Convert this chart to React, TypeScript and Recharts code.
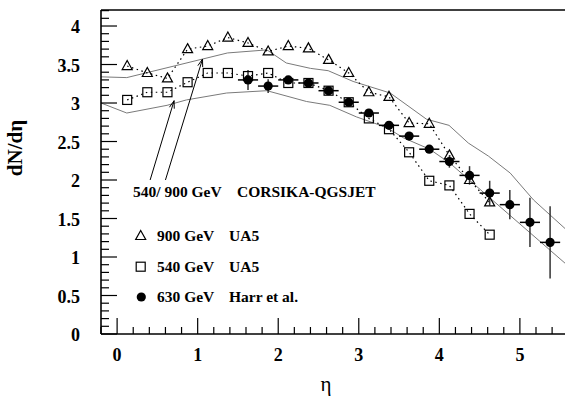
import React from 'react';
import { ComposedChart, Line, Scatter, XAxis, YAxis, ErrorBar, ReferenceLine } from 'recharts';

// ---------- data ----------
const ua5Eta = [0.125, 0.375, 0.625, 0.875, 1.125, 1.375, 1.625, 1.875, 2.125, 2.375, 2.625, 2.875, 3.125, 3.375, 3.625, 3.875, 4.125, 4.375, 4.625];
const ua5_900 = [3.48, 3.39, 3.32, 3.70, 3.74, 3.85, 3.78, 3.67, 3.74, 3.71, 3.56, 3.39, 3.14, 3.08, 2.74, 2.73, 2.32, 2.00, 1.71];
const ua5_540 = [3.04, 3.14, 3.14, 3.27, 3.39, 3.39, 3.35, 3.39, 3.26, 3.26, 3.16, 3.01, 2.80, 2.66, 2.36, 1.99, 1.93, 1.56, 1.29];

const harrEta = [1.625, 1.875, 2.125, 2.375, 2.625, 2.875, 3.125, 3.375, 3.625, 3.875, 4.125, 4.375, 4.625, 4.875, 5.125, 5.375];
const harrVal = [3.30, 3.22, 3.30, 3.26, 3.16, 3.01, 2.87, 2.71, 2.57, 2.40, 2.24, 2.06, 1.83, 1.68, 1.45, 1.19];
const harrErr = [0.13, 0.09, 0.05, 0.04, 0.04, 0.04, 0.04, 0.04, 0.04, 0.03, 0.08, 0.12, 0.16, 0.19, 0.32, 0.47];
const harrEtaErr = [0.125, 0.125, 0.125, 0.125, 0.125, 0.125, 0.125, 0.125, 0.125, 0.125, 0.125, 0.125, 0.125, 0.125, 0.125, 0.125];

const upperEta = [-0.2, 0.12, 1.37, 1.86, 2.10, 2.40, 2.62, 2.93, 3.39, 3.84, 4.12, 4.36, 4.61, 4.88, 5.17, 5.56];
const upperVal = [3.34, 3.33, 3.65, 3.69, 3.52, 3.45, 3.42, 3.28, 3.13, 2.79, 2.71, 2.48, 2.31, 2.09, 1.74, 1.37];
const lowerEta = [-0.2, 0.12, 0.62, 0.86, 1.36, 1.86, 2.35, 2.64, 2.97, 3.35, 3.55, 3.88, 4.13, 5.56];
const lowerVal = [3.00, 2.87, 2.97, 3.04, 3.13, 3.16, 3.02, 2.97, 2.82, 2.68, 2.55, 2.40, 2.22, 0.92];

// annotation arrows: [tailEta, tailY, headEta, headY]
const arrowLower = [0.41, 2.0, 0.707, 3.03];
const arrowUpper = [0.6, 2.0, 1.06, 3.57];

const xMajorTicks = [0, 1, 2, 3, 4, 5];
const yMajorTicks = [0, 0.5, 1, 1.5, 2, 2.5, 3, 3.5, 4];
const xTicks = Array.from({ length: 29 }, (_, i) => Math.round((-0.2 + i * 0.2) * 10) / 10);
const yTicks = Array.from({ length: 43 }, (_, i) => i / 10);

const X_DOMAIN: [number, number] = [-0.2, 5.56];
const Y_DOMAIN: [number, number] = [0, 4.208];

const d900 = ua5Eta.map((x, i) => ({ x, y: ua5_900[i] }));
const d540 = ua5Eta.map((x, i) => ({ x, y: ua5_540[i] }));
const dHarr = harrEta.map((x, i) => ({ x, y: harrVal[i], ey: harrErr[i], ex: harrEtaErr[i] }));
const dUpper = upperEta.map((x, i) => ({ x, y: upperVal[i] }));
const dLower = lowerEta.map((x, i) => ({ x, y: lowerVal[i] }));

const FONT = '"Liberation Serif", "Times New Roman", serif';

const isIn = (v: number, arr: number[]) => arr.some((a) => Math.abs(a - v) < 1e-6);

const XTick = (p: any) => {
  const { x, y, payload } = p;
  const v = payload.value;
  const major = isIn(v, xMajorTicks);
  return (
    <g>
      <line x1={x} x2={x} y1={y} y2={y - (major ? 16 : 7)} stroke="#000" strokeWidth={1.2} />
      {major && (
        <text x={x} y={y + 27} textAnchor="middle" fontFamily={FONT} fontWeight="bold" fontSize={18} fill="#000">
          {String(v)}
        </text>
      )}
    </g>
  );
};

const YTick = (p: any) => {
  const { x, y, payload } = p;
  const v = payload.value;
  const major = isIn(v, yMajorTicks);
  return (
    <g>
      <line x1={x} x2={x + (major ? 16 : 8)} y1={y} y2={y} stroke="#000" strokeWidth={1.2} />
      {major && (
        <text x={x - 21} y={y + 7} textAnchor="end" fontFamily={FONT} fontWeight="bold" fontSize={18} fill="#000">
          {String(v)}
        </text>
      )}
    </g>
  );
};

const Tri = ({ cx, cy }: any) => (
  <path d={`M${cx},${cy - 5.5} L${cx + 5},${cy + 3.5} L${cx - 5},${cy + 3.5} Z`} fill="none" stroke="#000" strokeWidth={1.2} />
);
const Sq = ({ cx, cy }: any) => (
  <rect x={cx - 4.5} y={cy - 4.5} width={9} height={9} fill="none" stroke="#000" strokeWidth={1.2} />
);
const Dot = ({ cx, cy }: any) => <circle cx={cx} cy={cy} r={4.6} fill="#000" />;

const ArrowShape = (p: any) => {
  const { x1, y1, x2, y2 } = p;
  const a = Math.atan2(y2 - y1, x2 - x1);
  const L = 8;
  const s = 0.32;
  const ax = x2 - L * Math.cos(a - s);
  const ay = y2 - L * Math.sin(a - s);
  const bx = x2 - L * Math.cos(a + s);
  const by = y2 - L * Math.sin(a + s);
  return (
    <g>
      <line x1={x1} y1={y1} x2={x2} y2={y2} stroke="#000" strokeWidth={1} />
      <polyline points={`${ax},${ay} ${x2},${y2} ${bx},${by}`} fill="none" stroke="#000" strokeWidth={1} />
    </g>
  );
};

export default function App() {
  return (
    <div style={{ position: 'absolute', left: 0, top: 0, width: 565, height: 398, background: '#fff' }}>
      <ComposedChart width={565} height={398} margin={{ top: 10, right: 0, bottom: 0, left: 0 }}>
        <XAxis
          dataKey="x"
          type="number"
          domain={X_DOMAIN}
          allowDataOverflow
          ticks={xTicks}
          interval={0}
          tickSize={0}
          tickMargin={0}
          tickLine={false}
          tick={<XTick />}
          axisLine={{ stroke: '#000', strokeWidth: 1.6 }}
          height={64}
        />
        <YAxis
          type="number"
          domain={Y_DOMAIN}
          allowDataOverflow
          ticks={yTicks}
          interval={0}
          tickSize={0}
          tickMargin={0}
          tickLine={false}
          tick={<YTick />}
          axisLine={{ stroke: '#000', strokeWidth: 1.6 }}
          width={101}
        />
        <ReferenceLine y={Y_DOMAIN[1]} stroke="#000" strokeWidth={1.6} />
        <Line data={dUpper} dataKey="y" type="linear" stroke="#7a7a7a" strokeWidth={1} dot={false} isAnimationActive={false} />
        <Line data={dLower} dataKey="y" type="linear" stroke="#7a7a7a" strokeWidth={1} dot={false} isAnimationActive={false} />
        <Line data={d900} dataKey="y" type="linear" stroke="#000" strokeWidth={1.2} strokeDasharray="1.5 3.5" dot={false} isAnimationActive={false} />
        <Line data={d540} dataKey="y" type="linear" stroke="#000" strokeWidth={1.2} strokeDasharray="1.5 3.5" dot={false} isAnimationActive={false} />
        <Scatter data={d900} dataKey="y" shape={<Tri />} isAnimationActive={false} />
        <Scatter data={d540} dataKey="y" shape={<Sq />} isAnimationActive={false} />
        <Scatter data={dHarr} dataKey="y" shape={<Dot />} isAnimationActive={false}>
          <ErrorBar dataKey="ey" direction="y" width={0} stroke="#333" strokeWidth={1.5} isAnimationActive={false} />
          <ErrorBar dataKey="ex" direction="x" width={0} stroke="#000" strokeWidth={1.5} isAnimationActive={false} />
        </Scatter>
        <ReferenceLine
          segment={[{ x: arrowLower[0], y: arrowLower[1] }, { x: arrowLower[2], y: arrowLower[3] }]}
          shape={ArrowShape}
          ifOverflow="visible"
        />
        <ReferenceLine
          segment={[{ x: arrowUpper[0], y: arrowUpper[1] }, { x: arrowUpper[2], y: arrowUpper[3] }]}
          shape={ArrowShape}
          ifOverflow="visible"
        />
      </ComposedChart>
      <svg width={565} height={398} style={{ position: 'absolute', left: 0, top: 0, pointerEvents: 'none' }}>
        <g fontFamily={FONT} fontWeight="bold" fontSize={15.5} fill="#000">
          <text x={133} y={197}>540/ 900 GeV</text>
          <text x={237} y={197}>CORSIKA-QGSJET</text>
          <Tri cx={140.7} cy={236} />
          <text x={157} y={241}>900 GeV</text>
          <text x={229} y={241}>UA5</text>
          <Sq cx={140.7} cy={266.7} />
          <text x={157} y={271.7}>540 GeV</text>
          <text x={229} y={271.7}>UA5</text>
          <Dot cx={141.3} cy={297} />
          <text x={157} y={301.7}>630 GeV</text>
          <text x={229} y={301.7}>Harr et al.</text>
        </g>
        <text x={326} y={391} textAnchor="middle" fontFamily={FONT} fontSize={21} fill="#000">η</text>
        <text x={0} y={0} transform="translate(22,148) rotate(-90)" textAnchor="middle" fontFamily={FONT} fontWeight="bold" fontSize={21} fill="#000">dN/dη</text>
      </svg>
    </div>
  );
}
